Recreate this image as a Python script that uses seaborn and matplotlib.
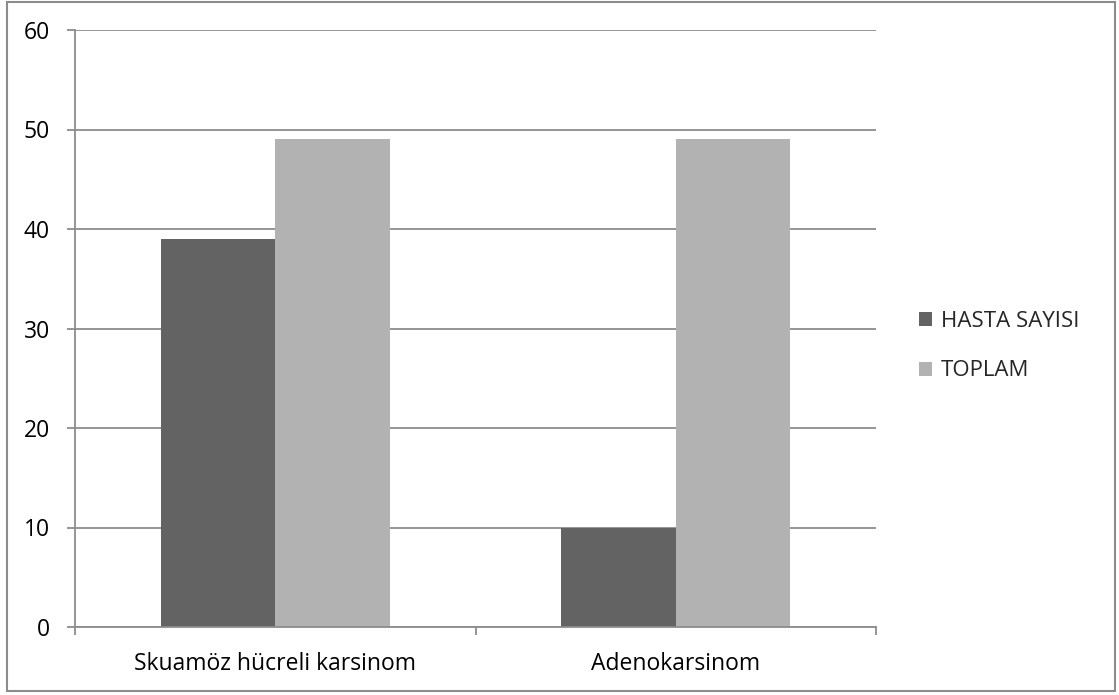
import matplotlib
matplotlib.use("Agg")
import matplotlib.pyplot as plt
from matplotlib.patches import Rectangle
import seaborn as sns
import pandas as pd

categories = ["Skuamöz hücreli karsinom", "Adenokarsinom"]
series_names = ["HASTA SAYISI", "TOPLAM"]
hasta_sayisi = [39, 10]
toplam = [49, 49]
y_ticks = [0, 10, 20, 30, 40, 50, 60]

colors = ["#636363", "#b2b2b2"]
axis_grey = "#8c8c8c"

df = pd.DataFrame({
    "kategori": categories * 2,
    "seri": [series_names[0]] * 2 + [series_names[1]] * 2,
    "deger": hasta_sayisi + toplam,
})

sns.set_theme(style="white")
plt.rcParams["font.family"] = ["Open Sans", "DejaVu Sans"]

W, H = 1119, 695
fig = plt.figure(figsize=(W / 100, H / 100), dpi=100)
ax = fig.add_axes([75 / W, 1 - 627 / H, (876 - 75) / W, (627 - 30) / H])

sns.barplot(data=df, x="kategori", y="deger", hue="seri", order=categories,
            hue_order=series_names, palette=colors, width=2 / 3.5,
            saturation=1, linewidth=0, ax=ax, legend=False, zorder=3)

ax.set_xlim(-0.5, 1.5)
ax.set_ylim(0, 60)
ax.set_yticks(y_ticks)
ax.set_yticklabels([str(v) for v in y_ticks])
ax.yaxis.grid(True, color=axis_grey, linewidth=1.3, zorder=0)
ax.set_axisbelow(True)
ax.set_xlabel("")
ax.set_ylabel("")

for side in ["top", "right"]:
    ax.spines[side].set_visible(False)
for side in ["left", "bottom"]:
    ax.spines[side].set_color(axis_grey)
    ax.spines[side].set_linewidth(1.3)
    ax.spines[side].set_zorder(4)

# category boundary ticks on the x axis, labels centred between them
ax.set_xticks([-0.5, 0.5, 1.5])
ax.set_xticklabels([])
ax.set_xticks([0, 1], minor=True)
ax.set_xticklabels(categories, minor=True)
ax.tick_params(axis="x", which="major", length=6, width=1.3, color=axis_grey,
               bottom=True, direction="out")
ax.tick_params(axis="x", which="minor", length=0, pad=18, labelsize=16.5,
               labelcolor="black")
ax.tick_params(axis="y", length=6, width=1.3, color=axis_grey, left=True,
               pad=12, labelsize=16.5, labelcolor="black", direction="out")

handles = [Rectangle((0, 0), 1, 1, facecolor=c, edgecolor="none") for c in colors]
fig.legend(handles, series_names, loc="center left",
           bbox_to_anchor=(899 / W, 1 - 346 / H), frameon=False,
           fontsize=16, handlelength=0.6, handleheight=0.6,
           handletextpad=0.4, labelspacing=1.3)

fig.add_artist(Rectangle((6.5 / W, 1 - 691 / H), (1115 - 6.5) / W, (691 - 1.5) / H,
                         transform=fig.transFigure, fill=False,
                         edgecolor=axis_grey, linewidth=1.5))

fig.savefig("out.png", dpi=100)
